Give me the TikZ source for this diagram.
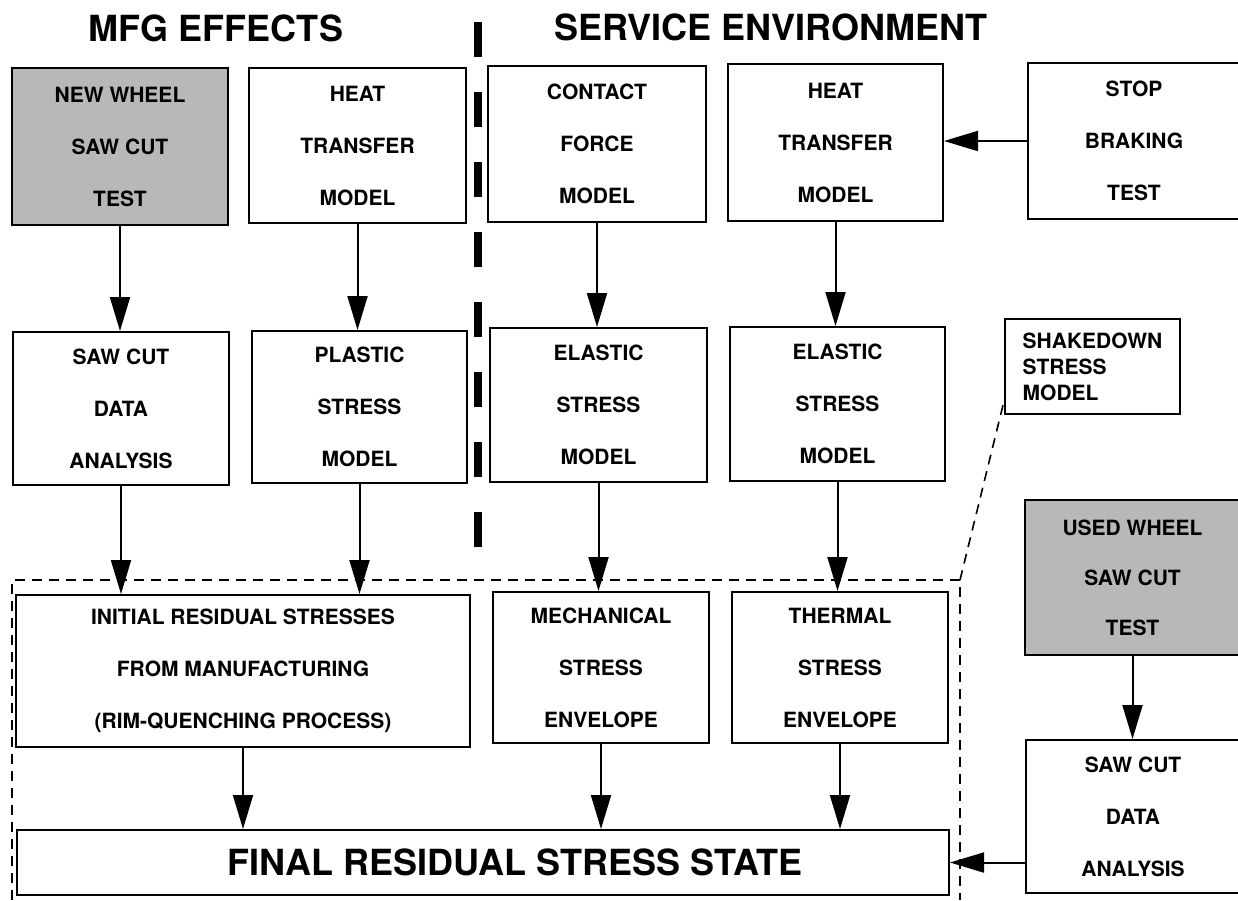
\documentclass[tikz,border=0pt]{standalone}
\usepackage{fontspec}
\setmainfont{TeX Gyre Heros}
\usetikzlibrary{arrows.meta,calc}
\begin{document}
\begin{tikzpicture}[x=1pt,y=-1pt,
  box/.style={draw,line width=2pt,inner sep=0pt,align=center,font=\bfseries\fontsize{21}{52}\selectfont},
  graybox/.style={box,fill=black!28},
  arr/.style={line width=2pt,-{Triangle[length=34pt,width=20pt]}},
  titletext/.style={font=\bfseries\fontsize{36}{40}\selectfont,inner sep=0pt},
  thindash/.style={line width=1.6pt,dash pattern=on 10pt off 7pt},
  sepline/.style={line width=8.5pt,dash pattern=on 35pt off 35pt}]
\useasboundingbox (0,0) rectangle (1238,900);

% titles
\node[titletext] (t1) at (216,28) {MFG EFFECTS};
\node[titletext] (t2) at (771,27) {SERVICE ENVIRONMENT};

% separator
\coordinate (s1) at (478,22);
\coordinate (s2) at (478,547);
\draw[sepline] (s1) -- (s2);

% row 1
\node[graybox,minimum width=216pt,minimum height=157pt] (nw) at (120,146.5) {NEW WHEEL\\SAW CUT\\TEST};
\node[box,minimum width=217pt,minimum height=155pt] (ht1) at (357.5,145.5) {HEAT\\TRANSFER\\MODEL};
\node[box,minimum width=218pt,minimum height=156pt] (cf) at (597,144) {CONTACT\\FORCE\\MODEL};
\node[box,minimum width=215pt,minimum height=157pt] (ht2) at (835.5,142.5) {HEAT\\TRANSFER\\MODEL};
\node[box,minimum width=212pt,minimum height=156pt] (stop) at (1134,141) {STOP\\BRAKING\\TEST};

% row 2
\node[box,minimum width=216pt,minimum height=153pt] (sc1) at (121,408.5) {SAW CUT\\DATA\\ANALYSIS};
\node[box,minimum width=215pt,minimum height=152pt] (ps) at (359.5,407) {PLASTIC\\STRESS\\MODEL};
\node[box,minimum width=217pt,minimum height=154pt] (es1) at (598.5,405) {ELASTIC\\STRESS\\MODEL};
\node[box,minimum width=215pt,minimum height=154pt] (es2) at (837.5,404) {ELASTIC\\STRESS\\MODEL};
\node[box,align=left,font=\bfseries\fontsize{21}{26}\selectfont,minimum width=175pt,minimum height=95pt] (shake) at (1092.5,366.5) {SHAKEDOWN\\STRESS\\MODEL};

% right column
\node[graybox,font=\bfseries\fontsize{21}{50}\selectfont,minimum width=215pt,minimum height=155pt] (used) at (1132.5,577.5) {USED WHEEL\\SAW CUT\\TEST};
\node[box,minimum width=214pt,minimum height=153pt] (sc2) at (1133,816.5) {SAW CUT\\DATA\\ANALYSIS};

% row 3
\node[box,minimum width=454pt,minimum height=152pt] (init) at (243,671) {INITIAL RESIDUAL STRESSES\\FROM MANUFACTURING\\(RIM-QUENCHING PROCESS)};
\node[box,minimum width=216pt,minimum height=151pt] (mech) at (601,667.5) {MECHANICAL\\STRESS\\ENVELOPE};
\node[box,minimum width=216pt,minimum height=151pt] (therm) at (840,667.5) {THERMAL\\STRESS\\ENVELOPE};

% final
\node[box,font=\bfseries\fontsize{36}{40}\selectfont,minimum width=932pt,minimum height=65pt] (final) at (483,862.5) {\hspace*{64pt}FINAL RESIDUAL STRESS STATE};

% arrows
\draw[arr] (nw.south) -- (nw.south |- sc1.north);
\draw[arr] (ht1.south) -- (ht1.south |- ps.north);
\draw[arr] (cf.south) -- (cf.south |- es1.north);
\draw[arr] (ht2.south) -- (ht2.south |- es2.north);
\draw[arr] (stop.west) -- (stop.west -| ht2.east);
\draw[arr] (sc1.south) -- (sc1.south |- init.north);
\draw[arr] (ps.south) -- (ps.south |- init.north);
\draw[arr] (es1.south) -- (es1.south |- mech.north);
\draw[arr] (es2.south) -- (es2.south |- therm.north);
\draw[arr] (init.south) -- (init.south |- final.north);
\draw[arr] (mech.south) -- (mech.south |- final.north);
\draw[arr] (therm.south) -- (therm.south |- final.north);
\draw[arr] (used.south) -- (used.south |- sc2.north);
\draw[arr] (final.east -| sc2.west) -- (final.east);

% dashed enclosure
\coordinate (dbl) at (12,900);
\coordinate (dtl) at (12,580);
\coordinate (dtr) at (960,580);
\coordinate (dbr) at (960,900);
\draw[thindash] (dbl) -- (dtl) -- (dtr) -- (dbr);
\draw[thindash] (dtr) -- ($(shake.south west)+(0,-14)$);
\end{tikzpicture}
\end{document}
